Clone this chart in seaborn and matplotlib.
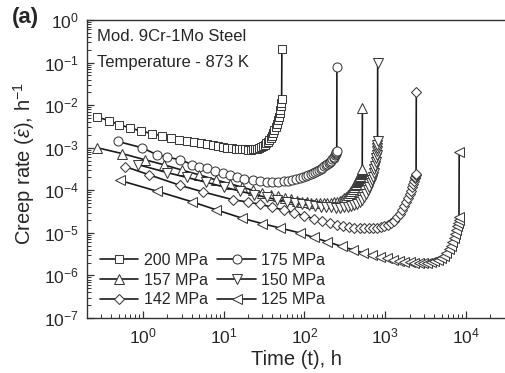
import matplotlib
matplotlib.use("Agg")
import matplotlib.pyplot as plt
import seaborn as sns
import numpy as np
from matplotlib.ticker import LogLocator, NullFormatter

# ---------------- data ----------------
labels = ["200 MPa", "175 MPa", "157 MPa", "150 MPa", "142 MPa", "125 MPa"]

t_200 = [0.27, 0.38, 0.5, 0.7, 0.95, 1.3, 1.7, 2.2, 2.8, 3.5, 4.3, 5.2, 6.2, 7.3, 8.5,
         9.7, 11, 12.5, 14, 15.5, 17, 18.5, 20, 21.5, 23, 24.5, 26, 27.5, 29, 30.5,
         32, 33.5, 35, 36.5, 38, 39.5, 41, 42.5, 44, 45.5, 47, 48.2, 49.3, 50.2, 51,
         51.6, 52.1, 52.5]
r_200 = [5.3e-3, 4.3e-3, 3.5e-3, 2.9e-3, 2.45e-3, 2.15e-3, 1.9e-3, 1.7e-3, 1.55e-3, 1.45e-3,
         1.35e-3, 1.27e-3, 1.2e-3, 1.14e-3, 1.09e-3, 1.05e-3, 1.01e-3, 9.8e-4, 9.5e-4, 9.3e-4,
         9.2e-4, 9.1e-4, 9.0e-4, 9.0e-4, 9.1e-4, 9.2e-4, 9.5e-4, 9.9e-4, 1.04e-3, 1.1e-3,
         1.18e-3, 1.27e-3, 1.38e-3, 1.52e-3, 1.7e-3, 1.92e-3, 2.2e-3, 2.55e-3, 3.0e-3, 3.6e-3,
         4.4e-3, 5.3e-3, 6.4e-3, 7.8e-3, 9.5e-3, 1.15e-2, 1.4e-2, 0.21]

t_175 = [0.49, 0.97, 1.5, 2.0, 2.9, 4.1, 5.0, 6.2, 7.7, 9.7, 12, 14.5, 18, 23, 28,
         34, 40, 47, 55, 63, 71, 79, 87, 95, 103, 111, 119, 127, 135, 143,
         151, 159, 167, 175, 183, 191, 199, 207, 215, 222, 229, 235, 240, 244, 247,
         249, 251, 252]
r_175 = [1.4e-3, 1.0e-3, 6.8e-4, 6.0e-4, 5.2e-4, 4.0e-4, 3.6e-4, 3.3e-4, 2.9e-4, 2.6e-4,
         2.3e-4, 2.1e-4, 1.85e-4, 1.7e-4, 1.62e-4, 1.58e-4, 1.57e-4, 1.58e-4, 1.62e-4, 1.68e-4,
         1.75e-4, 1.83e-4, 1.92e-4, 2.02e-4, 2.13e-4, 2.25e-4, 2.38e-4, 2.52e-4, 2.67e-4, 2.83e-4,
         3.0e-4, 3.2e-4, 3.4e-4, 3.65e-4, 3.9e-4, 4.15e-4, 4.4e-4, 4.7e-4, 5.0e-4, 5.4e-4,
         5.8e-4, 6.2e-4, 6.6e-4, 7.0e-4, 7.4e-4, 7.8e-4, 8.2e-4, 0.079]

t_157 = [0.27, 0.55, 1.06, 1.8, 3, 5, 8, 12, 17, 23, 30, 38, 47, 57, 68,
         80, 93, 107, 122, 138, 155, 173, 192, 212, 232, 252, 272, 292, 312, 330,
         348, 365, 380, 394, 407, 419, 430, 440, 449, 458, 466, 474, 481, 488, 494,
         500, 505, 509, 513, 516, 519, 521]
r_157 = [1.0e-3, 7.3e-4, 5.2e-4, 4.0e-4, 3.0e-4, 2.3e-4, 1.75e-4, 1.42e-4, 1.18e-4, 1.0e-4,
         8.8e-5, 7.9e-5, 7.2e-5, 6.6e-5, 6.1e-5, 5.7e-5, 5.4e-5, 5.2e-5, 5.05e-5, 4.95e-5,
         4.9e-5, 4.9e-5, 4.95e-5, 5.05e-5, 5.2e-5, 5.4e-5, 5.7e-5, 6.0e-5, 6.5e-5, 7.1e-5,
         7.8e-5, 8.7e-5, 9.7e-5, 1.08e-4, 1.2e-4, 1.3e-4, 1.42e-4, 1.53e-4, 1.65e-4, 1.75e-4,
         1.85e-4, 1.95e-4, 2.05e-4, 2.2e-4, 2.35e-4, 2.5e-4, 2.65e-4, 2.8e-4, 2.95e-4, 3.05e-4,
         3.15e-4, 8.5e-3]

t_150 = [0.87, 2.0, 3.5, 6, 10, 16, 24, 34, 46, 60, 76, 94, 114, 136, 160,
         186, 214, 244, 276, 310, 345, 380, 415, 450, 485, 518, 550, 580, 608, 634,
         658, 680, 700, 718, 734, 748, 760, 771, 780, 788, 794, 799, 803, 806]
r_150 = [4.0e-4, 2.6e-4, 2.0e-4, 1.55e-4, 1.2e-4, 9.5e-5, 7.9e-5, 6.8e-5, 6.0e-5, 5.4e-5,
         5.0e-5, 4.7e-5, 4.45e-5, 4.25e-5, 4.1e-5, 4.0e-5, 3.95e-5, 3.9e-5, 3.9e-5, 3.95e-5,
         4.05e-5, 4.2e-5, 4.45e-5, 4.8e-5, 5.3e-5, 6.0e-5, 7.0e-5, 8.3e-5, 1.0e-4, 1.2e-4,
         1.45e-4, 1.75e-4, 2.1e-4, 2.55e-4, 3.1e-4, 3.8e-4, 4.6e-4, 5.6e-4, 6.8e-4, 8.2e-4,
         9.8e-4, 1.17e-3, 1.4e-3, 0.1]

t_142 = [0.6, 1.2, 2.9, 5.5, 13, 20, 28, 40, 56, 75, 100, 130, 165, 205, 250,
         300, 355, 415, 480, 550, 625, 705, 790, 880, 975, 1075, 1180, 1290, 1400, 1510,
         1620, 1725, 1825, 1920, 2010, 2090, 2160, 2220, 2275, 2320, 2360, 2390, 2410, 2425]
r_142 = [3.6e-4, 2.3e-4, 1.3e-4, 9.2e-5, 6.0e-5, 5.3e-5, 4.7e-5, 4.0e-5, 3.4e-5, 2.9e-5,
         2.5e-5, 2.15e-5, 1.9e-5, 1.7e-5, 1.55e-5, 1.45e-5, 1.38e-5, 1.33e-5, 1.3e-5, 1.28e-5,
         1.27e-5, 1.28e-5, 1.3e-5, 1.35e-5, 1.42e-5, 1.52e-5, 1.7e-5, 1.95e-5, 2.3e-5, 2.8e-5,
         3.5e-5, 4.3e-5, 5.3e-5, 6.5e-5, 8.0e-5, 9.7e-5, 1.17e-4, 1.4e-4, 1.65e-4, 1.9e-4,
         2.1e-4, 2.25e-4, 2.35e-4, 0.02]

t_125 = [0.52, 1.5, 4, 8, 17, 30, 50, 87, 130, 190, 290, 400, 530, 680, 850,
         1040, 1250, 1480, 1730, 2000, 2290, 2600, 2930, 3280, 3650, 4040, 4450, 4870, 5290, 5700,
         6090, 6450, 6780, 7080, 7350, 7590, 7800, 7970, 8100, 8190, 8240]
r_125 = [1.7e-4, 9.5e-5, 5.4e-5, 3.5e-5, 2.2e-5, 1.65e-5, 1.3e-5, 1.0e-5, 7.8e-6, 6.2e-6,
         4.8e-6, 4.0e-6, 3.4e-6, 3.0e-6, 2.7e-6, 2.5e-6, 2.35e-6, 2.22e-6, 2.12e-6, 2.05e-6,
         2.0e-6, 1.98e-6, 1.98e-6, 2.0e-6, 2.05e-6, 2.15e-6, 2.3e-6, 2.55e-6, 2.9e-6, 3.4e-6,
         4.1e-6, 5.0e-6, 6.2e-6, 7.7e-6, 9.5e-6, 1.17e-5, 1.43e-5, 1.72e-5, 2.0e-5, 2.3e-5,
         8e-4]

x_ticks = [1e0, 1e1, 1e2, 1e3, 1e4]
y_ticks = [1e-7, 1e-6, 1e-5, 1e-4, 1e-3, 1e-2, 1e-1, 1e0]

# ---------------- style ----------------
sns.set_style("ticks")
plt.rcParams["font.family"] = ["Liberation Sans", "DejaVu Sans"]
plt.rcParams["mathtext.fontset"] = "custom"
plt.rcParams["mathtext.rm"] = "Liberation Sans"
plt.rcParams["mathtext.it"] = "Liberation Sans:italic"
plt.rcParams["mathtext.bf"] = "Liberation Sans:bold"

fig = plt.figure(figsize=(5.06, 3.73), dpi=100)
ax = fig.add_axes([87 / 506, 55 / 373, 419 / 506, 298 / 373])

series = [
    (t_200, r_200, "s", 6.0),
    (t_175, r_175, "o", 6.5),
    (t_157, r_157, "^", 6.5),
    (t_150, r_150, "v", 6.5),
    (t_142, r_142, "D", 5.0),
    (t_125, r_125, "<", 6.5),
]

handles = []
for (t, r, m, ms), lab in zip(series, labels):
    n_before = len(ax.lines)
    sns.lineplot(x=t, y=r, ax=ax, sort=False, estimator=None, color="#1a1a1a",
                 linewidth=1.2, marker=m, markersize=ms, markerfacecolor="white",
                 markeredgecolor="#3a3a3a", markeredgewidth=0.75, legend=False)
    ln = ax.lines[n_before]
    ln.set_label(lab)
    handles.append(ln)

ax.set_xscale("log")
ax.set_yscale("log")
ax.set_xlim(0.2025, 31300)
ax.set_ylim(1e-7, 1)
ax.set_xticks(x_ticks)
ax.set_yticks(y_ticks)
ax.xaxis.set_minor_locator(LogLocator(base=10, subs=np.arange(2, 10), numticks=20))
ax.yaxis.set_minor_locator(LogLocator(base=10, subs=np.arange(2, 10), numticks=20))
ax.xaxis.set_minor_formatter(NullFormatter())
ax.yaxis.set_minor_formatter(NullFormatter())
ax.tick_params(which="both", direction="in", top=False, right=False, color="#333333")
ax.tick_params(which="major", length=5, width=0.9, labelsize=12.5, pad=6)
ax.tick_params(which="minor", length=2.8, width=0.7)
for s in ["left", "bottom", "top"]:
    ax.spines[s].set_linewidth(1.0)
    ax.spines[s].set_color("#333333")
ax.spines["right"].set_visible(False)

ax.set_xlabel("Time (t), h", fontsize=14.5)
ax.set_ylabel(r"Creep rate ($\dot{\varepsilon}$), h$^{-1}$", fontsize=14.5)
ax.xaxis.set_label_coords(0.5, -0.107)
ax.yaxis.set_label_coords(-0.12, 0.52)

ax.text(0.024, 0.943, "Mod. 9Cr-1Mo Steel", transform=ax.transAxes,
        fontsize=12, va="center", ha="left")
ax.text(0.024, 0.859, "Temperature - 873 K", transform=ax.transAxes,
        fontsize=12, va="center", ha="left")
fig.text(12 / 506, 1 - 18 / 373, "(a)", fontsize=16, fontweight="bold",
         va="center", ha="left")

order = [0, 2, 4, 1, 3, 5]
ax.legend([handles[i] for i in order], [labels[i] for i in order], ncol=2,
          loc="center left", bbox_to_anchor=(0.031, 0.1275), frameon=False,
          fontsize=11.5, borderpad=0, borderaxespad=0, handlelength=2.4,
          handletextpad=0.35, columnspacing=0.6, labelspacing=0.3, numpoints=1)

fig.savefig("out.png", dpi=100)
